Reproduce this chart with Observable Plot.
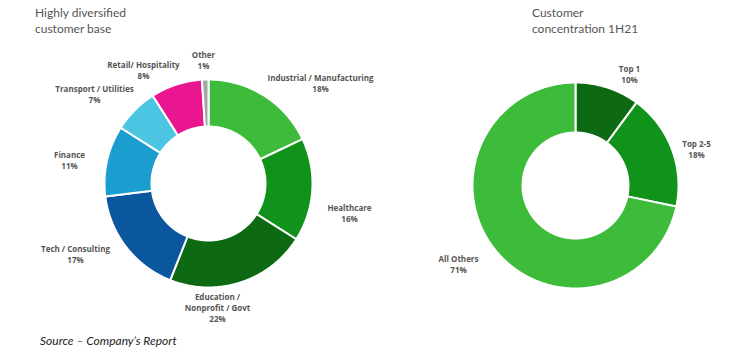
<!DOCTYPE html>
<html>
<head>
<meta charset="utf-8">
<script src="https://cdn.jsdelivr.net/npm/d3@7"></script>
<script src="https://cdn.jsdelivr.net/npm/@observablehq/plot@0.6"></script>
<style>
  html, body { margin: 0; padding: 0; background: #fff; }
  #wrap { position: relative; width: 738px; height: 352px; overflow: hidden; }
  #wrap svg { position: absolute; left: 0; top: 0; }
  .title { position: absolute; font-family: Lato, "Open Sans", sans-serif; font-size: 12px; line-height: 16px; color: #555; }
  .caption { position: absolute; font-family: Lato, "Open Sans", sans-serif; font-style: italic; font-size: 12px; color: #222; }
</style>
</head>
<body>
<div id="wrap">
  <div class="title" style="left:35px; top:5px;">Highly diversified<br>customer base</div>
  <div class="title" style="left:532px; top:5px;">Customer<br>concentration 1H21</div>
  <div class="caption" style="left:40px; top:333px;">Source – Company’s Report</div>
</div>
<script>
// ---- Data ----
const sectorNames = ["Industrial / Manufacturing", "Healthcare", "Education / Nonprofit / Govt", "Tech / Consulting", "Finance", "Transport / Utilities", "Retail/ Hospitality", "Other"];
const sectorLabels = [["Industrial / Manufacturing"], ["Healthcare"], ["Education /", "Nonprofit / Govt"], ["Tech / Consulting"], ["Finance"], ["Transport / Utilities"], ["Retail/ Hospitality"], ["Other"]];
const sectorValues = [18, 16, 22, 17, 11, 7, 8, 1];

const customerNames = ["Top 1", "Top 2-5", "All Others"];
const customerValues = [10, 18, 71];

// ---- Styles / layout (kept separate from data) ----
const sectorColors = ["#3dbb3b", "#11921a", "#0e6a12", "#0a579e", "#1b9dcf", "#4cc5e3", "#ea1690", "#a5a5a5"];
const customerColors = ["#0e6a12", "#11921a", "#3dbb3b"];
const leftDonut = {cx: 208, cy: 183, r0: 57, r1: 104};
const rightDonut = {cx: 575, cy: 185, r0: 53, r1: 103};
const sectorLabelPos = [[320, 78], [349, 208], [217, 297], [75, 249], [69, 155], [94, 89], [143, 65], [203, 55]];
const customerLabelPos = [[629, 69], [696, 144], [458, 259]];

function slices(names, values, colors, donut) {
  const arcs = d3.pie().sort(null).value(d => d)(values);
  const pts = [];
  arcs.forEach((a, i) => {
    const n = Math.max(4, Math.ceil((a.endAngle - a.startAngle) / 0.01));
    for (let k = 0; k <= n; k++) {
      const t = a.startAngle + (a.endAngle - a.startAngle) * k / n;
      pts.push({key: donut.cx + "-" + names[i], color: colors[i], x: donut.cx + donut.r1 * Math.sin(t), y: donut.cy - donut.r1 * Math.cos(t)});
    }
    for (let k = n; k >= 0; k--) {
      const t = a.startAngle + (a.endAngle - a.startAngle) * k / n;
      pts.push({key: donut.cx + "-" + names[i], color: colors[i], x: donut.cx + donut.r0 * Math.sin(t), y: donut.cy - donut.r0 * Math.cos(t)});
    }
  });
  return pts;
}

function labels(lines, values, pos) {
  const out = [];
  lines.forEach((ls, i) => {
    const all = [...ls, values[i] + "%"];
    all.forEach((s, j) => out.push({text: s, x: pos[i][0], y: pos[i][1] + j * 11}));
  });
  return out;
}

const slicePts = [
  ...slices(sectorNames, sectorValues, sectorColors, leftDonut),
  ...slices(customerNames, customerValues, customerColors, rightDonut)
];
const labelRows = [
  ...labels(sectorLabels, sectorValues, sectorLabelPos),
  ...labels(customerNames.map(d => [d]), customerValues, customerLabelPos)
];

const chart = Plot.plot({
  width: 738,
  height: 352,
  margin: 0,
  x: {domain: [0, 738], range: [0, 738], axis: null},
  y: {domain: [0, 352], range: [0, 352], axis: null},
  color: {type: "identity"},
  style: {background: "transparent"},
  marks: [
    Plot.line(slicePts, {x: "x", y: "y", z: "key", fill: "color", stroke: "white", strokeWidth: 2, curve: "linear-closed"}),
    Plot.text(labelRows, {x: "x", y: "y", text: "text", fill: "#555", fontSize: 8, fontWeight: "bold", fontFamily: "'Open Sans', sans-serif", textAnchor: "middle"})
  ]
});
document.getElementById("wrap").prepend(chart);
</script>
</body>
</html>
